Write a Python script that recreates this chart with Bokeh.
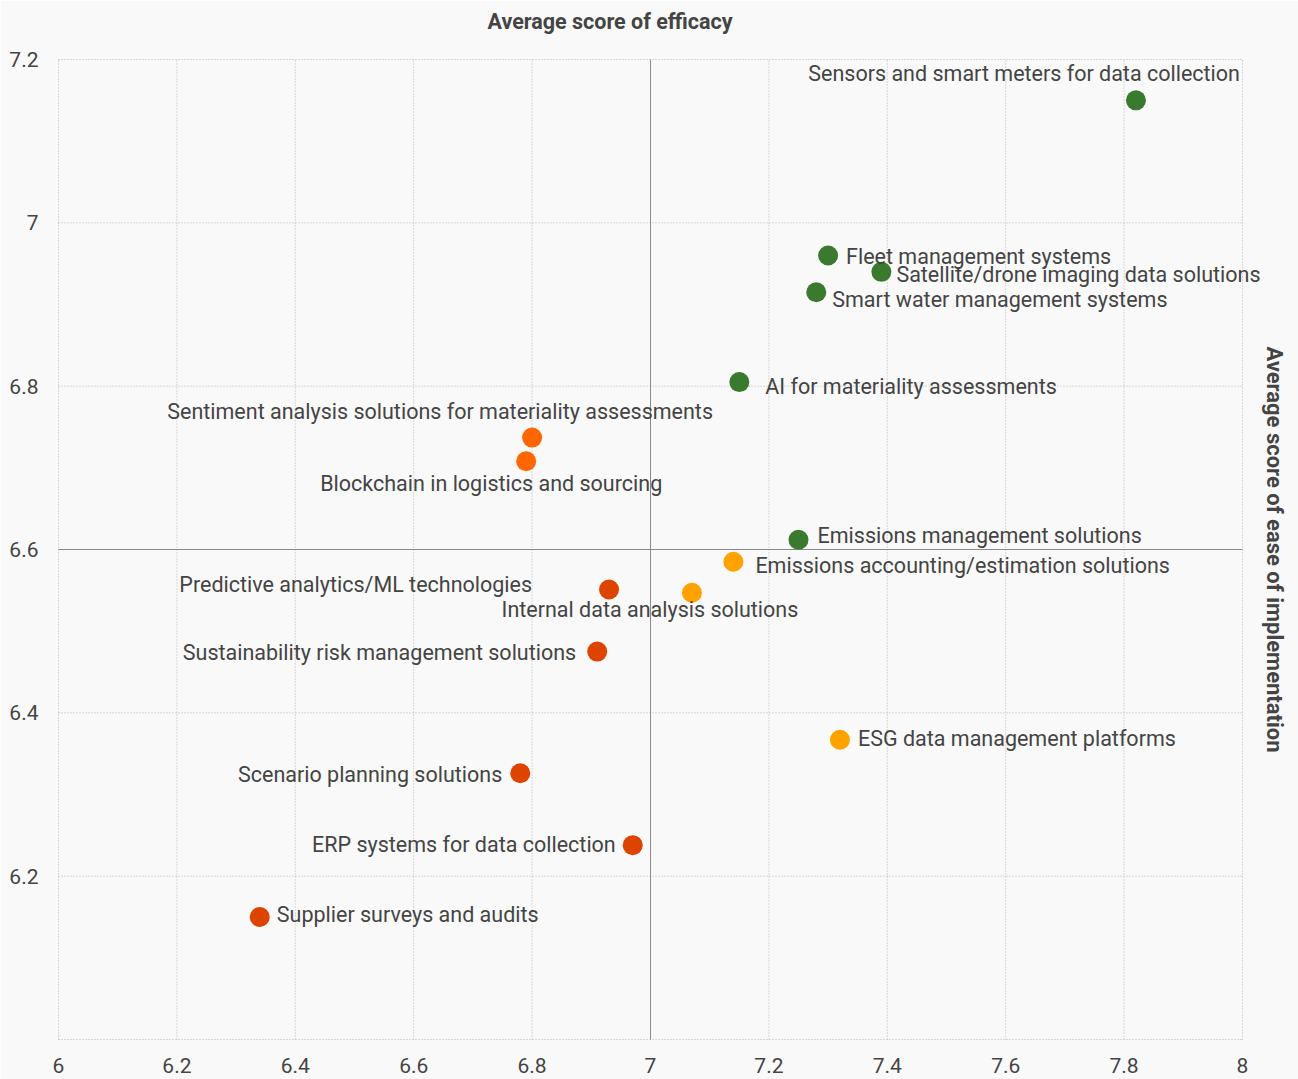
import math
from bokeh.plotting import figure
from bokeh.models import ColumnDataSource, FixedTicker, Title, LabelSet, Range1d
from bokeh.core.properties import value
from bokeh.embed import file_html
from bokeh.resources import INLINE

# Technologies rated by respondents
technologies = [
    "Sensors and smart meters for data collection",
    "Fleet management systems",
    "Satellite/drone imaging data solutions",
    "Smart water management systems",
    "AI for materiality assessments",
    "Sentiment analysis solutions for materiality assessments",
    "Blockchain in logistics and sourcing",
    "Emissions management solutions",
    "Emissions accounting/estimation solutions",
    "Predictive analytics/ML technologies",
    "Internal data analysis solutions",
    "Sustainability risk management solutions",
    "ESG data management platforms",
    "Scenario planning solutions",
    "ERP systems for data collection",
    "Supplier surveys and audits",
]
efficacy = [7.82, 7.30, 7.39, 7.28, 7.15, 6.80, 6.79, 7.25, 7.14, 6.93,
            7.07, 6.91, 7.32, 6.78, 6.97, 6.34]
ease = [7.15, 6.96, 6.94, 6.915, 6.805, 6.737, 6.708, 6.612, 6.585, 6.551,
        6.547, 6.475, 6.367, 6.326, 6.238, 6.15]

x_ticks = [6.0, 6.2, 6.4, 6.6, 6.8, 7.0, 7.2, 7.4, 7.6, 7.8, 8.0]
y_ticks = [6.2, 6.4, 6.6, 6.8, 7.0, 7.2]
y_grid = [6.0] + y_ticks

x_label = "Average score of efficacy"
y_label = "Average score of ease of implementation"

# Quadrant split points
mid_efficacy = 7.0
mid_ease = 6.6

quadrant_colors = {
    ("hi", "hi"): "#3a7a2e",
    ("lo", "hi"): "#ff6600",
    ("hi", "lo"): "#ffa200",
    ("lo", "lo"): "#dd4400",
}
colors = [
    quadrant_colors[("hi" if x >= mid_efficacy else "lo", "hi" if y >= mid_ease else "lo")]
    for x, y in zip(efficacy, ease)
]

# Label placement relative to each dot (align, dx right, dy up, in pixels)
placement = {
    "Sensors and smart meters for data collection": ("right", 104, 27),
    "Fleet management systems": ("left", 18, -1),
    "Satellite/drone imaging data solutions": ("left", 15, -3),
    "Smart water management systems": ("left", 16, -7),
    "AI for materiality assessments": ("left", 26, -4),
    "Sentiment analysis solutions for materiality assessments": ("center", -92, 26),
    "Blockchain in logistics and sourcing": ("center", -35, -22),
    "Emissions management solutions": ("left", 19, 4),
    "Emissions accounting/estimation solutions": ("left", 22, -4),
    "Predictive analytics/ML technologies": ("right", -77, 5),
    "Internal data analysis solutions": ("center", -42, -17),
    "Sustainability risk management solutions": ("right", -21, -1),
    "ESG data management platforms": ("left", 18, 1),
    "Scenario planning solutions": ("right", -18, -1),
    "ERP systems for data collection": ("right", -17, 1),
    "Supplier surveys and audits": ("left", 17, 3),
}

src = ColumnDataSource(dict(
    x=efficacy, y=ease, name=technologies, color=colors,
    align=[placement[n][0] for n in technologies],
    dx=[placement[n][1] for n in technologies],
    dy=[placement[n][2] for n in technologies],
))

FONT = "Roboto"
TEXT = "#444444"
BG = "#f9f9f9"
GRID = "#b5b5b5"
DIVIDER = "#8a8a8a"

# Frame geometry: the data box 6..8 x 6..7.2 spans 1184 x 980 px; the frame is
# padded slightly so the box edges stay visible and runs to the right edge of the
# canvas so long labels and the vertical heading are not cut off.
W, H = 1298, 1079
X0, X1, Y0, Y1 = 6.0, 8.0, 6.0, 7.2
BOX_W, BOX_H = 1184, 980
PAD = 2
BOX_LEFT, BOX_TOP = 58, 59
sx = (X1 - X0) / BOX_W
sy = (Y1 - Y0) / BOX_H
frame_left = BOX_LEFT - PAD
frame_top = BOX_TOP - PAD
frame_w = W - frame_left
frame_h = BOX_H + 2 * PAD

p = figure(
    frame_width=frame_w, frame_height=frame_h,
    x_range=Range1d(X0 - PAD * sx, X0 - PAD * sx + frame_w * sx),
    y_range=Range1d(Y0 - PAD * sy, Y1 + PAD * sy),
    output_backend="svg", toolbar_location=None,
    min_border_left=frame_left, min_border_right=0, min_border_top=frame_top,
    min_border_bottom=H - frame_top - frame_h,
    background_fill_color=BG, border_fill_color=BG, outline_line_color=None,
)
p.grid.visible = False

# Heading for the horizontal measure: a blank spacer next to the frame, heading above it
p.add_layout(Title(text=" ", text_font_size="1px", text_color=BG, standoff=16), "above")
p.add_layout(Title(text=x_label, align="left", offset=431,
                   text_font=FONT, text_font_size="21.5px", text_font_style="bold",
                   text_color=TEXT, standoff=10), "above")

# Axes
p.xaxis.ticker = FixedTicker(ticks=x_ticks)
p.yaxis.ticker = FixedTicker(ticks=y_ticks)
for ax in (p.xaxis[0], p.yaxis[0]):
    ax.axis_line_color = None
    ax.major_tick_line_color = None
    ax.minor_tick_line_color = None
    ax.major_label_text_font = FONT
    ax.major_label_text_font_size = "21px"
    ax.major_label_text_color = TEXT
p.xaxis.major_label_standoff = 10
p.yaxis.major_label_standoff = 12

# Dotted grid, box edges included
p.segment(x0=x_ticks, y0=[Y0] * len(x_ticks), x1=x_ticks, y1=[Y1] * len(x_ticks),
          line_color=GRID, line_dash="1 2", line_width=1)
p.segment(x0=[X0] * len(y_grid), y0=y_grid, x1=[X1] * len(y_grid), y1=y_grid,
          line_color=GRID, line_dash="1 2", line_width=1)

# Quadrant dividers
p.segment(x0=[mid_efficacy, X0], y0=[Y0, mid_ease], x1=[mid_efficacy, X1], y1=[Y1, mid_ease],
          line_color=DIVIDER, line_width=1)

# Heading for the vertical measure, reading top to bottom beside the box
p.text(x=[X1], y=[(Y0 + Y1) / 2], text=[y_label], angle=-math.pi / 2, x_offset=32,
       text_align="center", text_baseline="middle", text_font=value(FONT),
       text_font_size="22px", text_font_style="bold", text_color=TEXT)

p.scatter("x", "y", source=src, size=20, fill_color="color", line_color=None)
p.add_layout(LabelSet(x="x", y="y", text="name", source=src, text_align="align",
                      text_baseline="middle", x_offset="dx", y_offset="dy",
                      text_font=value(FONT), text_font_size="21.5px", text_color=TEXT))

open("out.html", "w").write(file_html(p, INLINE))
